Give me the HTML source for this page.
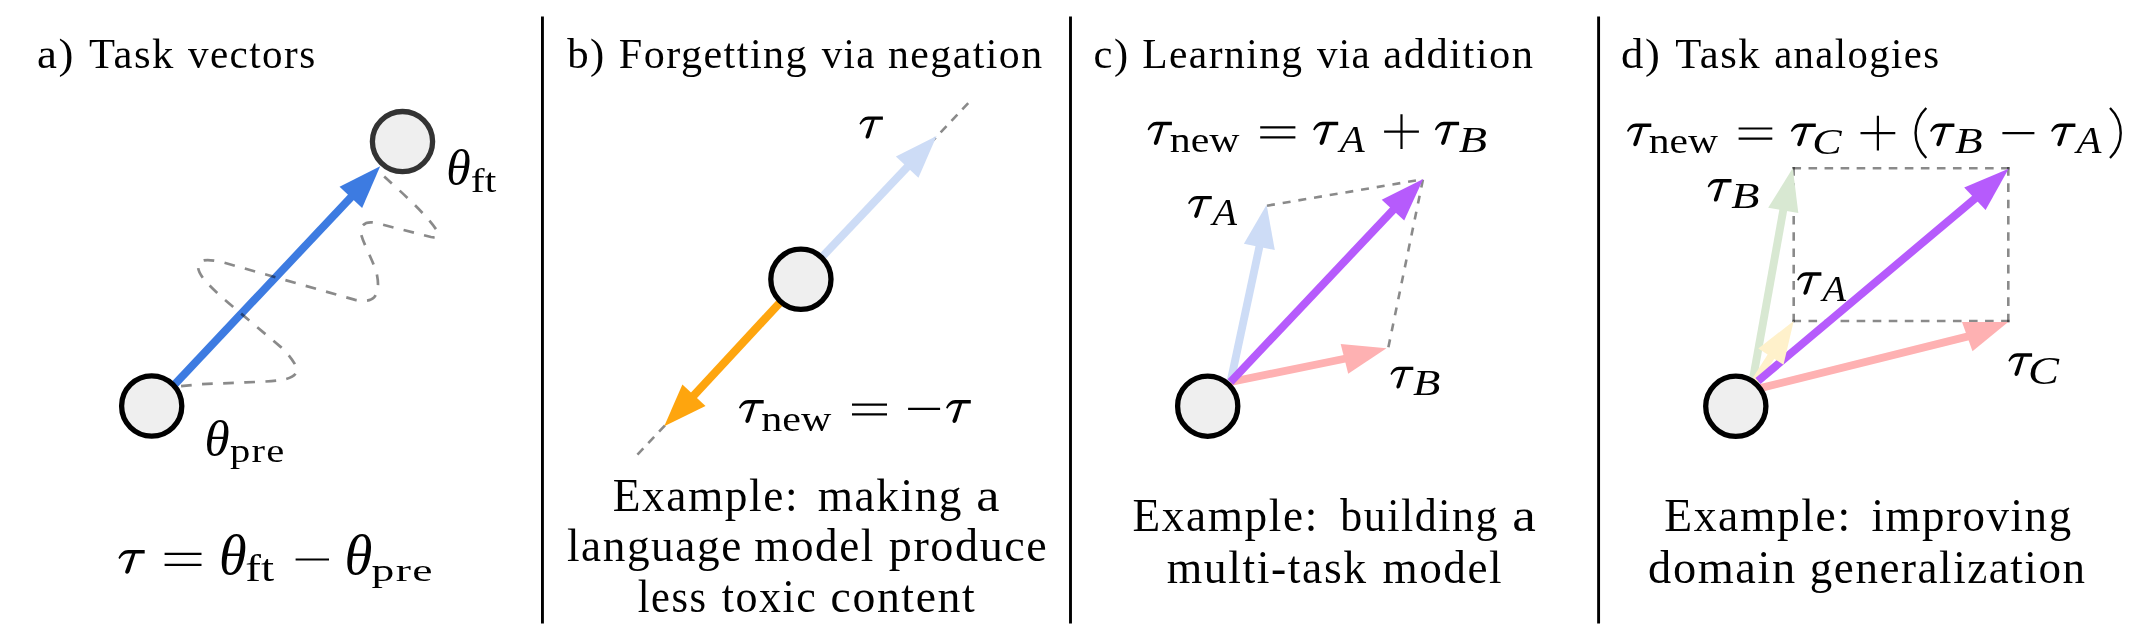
<!DOCTYPE html>
<html><head><meta charset="utf-8"><title>Task vectors</title>
<style>
html,body{margin:0;padding:0;background:#fff;}
body{width:2143px;height:635px;overflow:hidden;font-family:"Liberation Serif",serif;}
svg{display:block;font-family:"Liberation Serif",serif;fill:#000;}
</style></head><body>
<svg width="2143" height="635" viewBox="0 0 2143 635">
<rect width="2143" height="635" fill="#fff"/>

<line x1="542.45" y1="16.5" x2="542.45" y2="623.4" stroke="#000" stroke-width="2.9"/>
<line x1="1070.5" y1="16.5" x2="1070.5" y2="623.4" stroke="#000" stroke-width="2.9"/>
<line x1="1598.6" y1="16.5" x2="1598.6" y2="623.4" stroke="#000" stroke-width="2.9"/>
<!-- panel a -->
<line x1="154.60" y1="405.70" x2="353.59" y2="194.54" stroke="#3d7be1" stroke-width="7.9"/>
<polygon points="380.20,166.30 362.13,208.08 339.57,186.82" fill="#3d7be1"/>
<path d="M384.2,176.4 C400,191 424,212 436.2,229.5 C439.5,234.5 438,238.5 431,237 L376,223 C366,220.5 358.5,225 361.5,235.6 C364,245 374,262 377,275 C379,285 378,293 374.1,297.4 C371,301 364,301.5 355.2,299.9 L224.2,262.7 C212,259.5 203,259 200.2,262.2 C196.5,266 198,271 202.8,277.8 C210,287 222,297.5 233,306.8 L280.9,347.1 C288,353.5 292.5,360 295.3,364.8 C298.5,371 297,376 286,379.1 C278,381 262,381.8 245.6,382.4 L200.2,384.2 L180.1,386.2" fill="none" stroke="#000" stroke-opacity="0.46" stroke-width="2.7" stroke-dasharray="10.7 10.4"/>
<circle cx="151.7" cy="406.0" r="30.1" fill="#efefef" stroke="#000" stroke-width="5.3"/>
<circle cx="402.5" cy="141.6" r="30.1" fill="#efefef" stroke="#333" stroke-width="5.3"/>
<!-- panel b -->
<path d="M968.2,103.2 L635.3,456.9" fill="none" stroke="#000" stroke-opacity="0.46" stroke-width="2.6" stroke-dasharray="8.6 7.2"/>
<line x1="800.90" y1="279.30" x2="909.92" y2="164.17" stroke="#cddcf6" stroke-width="7.9"/>
<polygon points="936.60,136.00 918.43,177.73 895.92,156.42" fill="#cddcf6"/>
<line x1="801.60" y1="279.30" x2="691.23" y2="398.18" stroke="#fea50e" stroke-width="8.2"/>
<polygon points="664.20,426.20 682.40,384.60 705.50,405.90" fill="#fea50e"/>
<circle cx="800.9" cy="279.3" r="30.1" fill="#efefef" stroke="#000" stroke-width="5.3"/>
<!-- panel c -->
<path d="M1267,205.7 L1423,179.3" fill="none" stroke="#000" stroke-opacity="0.46" stroke-width="2.6" stroke-dasharray="8 7.9"/>
<path d="M1388.4,347.2 L1423,179.3" fill="none" stroke="#000" stroke-opacity="0.46" stroke-width="2.6" stroke-dasharray="8 8.3"/>
<line x1="1230.50" y1="382.00" x2="1260.19" y2="242.99" stroke="#cddcf6" stroke-width="7.9"/>
<polygon points="1266.60,204.80 1243.90,243.80 1274.80,250.00" fill="#cddcf6"/>
<line x1="1230.50" y1="382.00" x2="1348.37" y2="358.00" stroke="#feb1b2" stroke-width="7.9"/>
<polygon points="1386.50,348.20 1340.70,343.90 1348.20,373.70" fill="#feb1b2"/>
<line x1="1230.50" y1="382.00" x2="1395.70" y2="207.24" stroke="#b65bfc" stroke-width="7.9"/>
<polygon points="1423.20,179.00 1381.70,199.70 1404.20,220.60" fill="#b65bfc"/>
<circle cx="1207.7" cy="406.2" r="30.1" fill="#efefef" stroke="#000" stroke-width="5.3"/>
<!-- panel d -->
<path d="M1792.45,168.3 H2009.55" fill="none" stroke="#000" stroke-opacity="0.46" stroke-width="2.6" stroke-dasharray="8.6 7.45"/>
<path d="M1792.45,321.0 H2009.55" fill="none" stroke="#000" stroke-opacity="0.46" stroke-width="2.6" stroke-dasharray="8.6 7.45"/>
<path d="M1793.7,167.05 V322.25" fill="none" stroke="#000" stroke-opacity="0.46" stroke-width="2.6" stroke-dasharray="8.6 7.69"/>
<path d="M2008.3,167.05 V322.25" fill="none" stroke="#000" stroke-opacity="0.46" stroke-width="2.6" stroke-dasharray="8.6 7.69"/>
<line x1="1752.60" y1="381.00" x2="1783.96" y2="206.36" stroke="#d8e8d2" stroke-width="7.9"/>
<polygon points="1792.80,168.00 1768.20,207.70 1798.30,212.90" fill="#d8e8d2"/>
<line x1="1754.00" y1="389.70" x2="1971.13" y2="335.63" stroke="#feb1b2" stroke-width="7.9"/>
<polygon points="2008.20,322.00 1962.00,322.00 1972.50,351.20" fill="#feb1b2"/>
<line x1="1755.40" y1="381.00" x2="1773.05" y2="353.28" stroke="#fff1cb" stroke-width="7.9"/>
<line x1="1758.00" y1="381.00" x2="1977.96" y2="196.13" stroke="#b65bfc" stroke-width="7.9"/>
<polygon points="2008.60,168.80 1964.20,187.40 1985.60,210.00" fill="#b65bfc"/>
<polygon points="1793.70,320.90 1758.30,348.50 1783.50,364.80" fill="#fff1cb"/>
<circle cx="1735.8" cy="406.3" r="30.1" fill="#efefef" stroke="#000" stroke-width="5.3"/>
<!-- text -->
<g style="opacity:0.999">
<text x="37.09" y="68.20" font-size="41.80" textLength="37.96" lengthAdjust="spacingAndGlyphs" letter-spacing="1.463">a)</text>
<text x="89.04" y="68.20" font-size="41.80" textLength="85.73" lengthAdjust="spacingAndGlyphs" letter-spacing="1.463">Task</text>
<text x="188.00" y="68.20" font-size="41.80" textLength="128.60" lengthAdjust="spacingAndGlyphs" letter-spacing="1.463">vectors</text>
<text x="567.20" y="68.20" font-size="41.80" textLength="38.63" lengthAdjust="spacingAndGlyphs" letter-spacing="1.463">b)</text>
<text x="618.84" y="68.20" font-size="41.80" textLength="189.25" lengthAdjust="spacingAndGlyphs" letter-spacing="1.463">Forgetting</text>
<text x="821.70" y="68.20" font-size="41.80" textLength="54.11" lengthAdjust="spacingAndGlyphs" letter-spacing="1.463">via</text>
<text x="888.00" y="68.20" font-size="41.80" textLength="155.54" lengthAdjust="spacingAndGlyphs" letter-spacing="1.463">negation</text>
<text x="1093.58" y="68.20" font-size="41.80" textLength="35.99" lengthAdjust="spacingAndGlyphs" letter-spacing="1.463">c)</text>
<text x="1142.26" y="68.20" font-size="41.80" textLength="161.25" lengthAdjust="spacingAndGlyphs" letter-spacing="1.463">Learning</text>
<text x="1316.90" y="68.20" font-size="41.80" textLength="54.31" lengthAdjust="spacingAndGlyphs" letter-spacing="1.463">via</text>
<text x="1383.38" y="68.20" font-size="41.80" textLength="151.15" lengthAdjust="spacingAndGlyphs" letter-spacing="1.463">addition</text>
<text x="1621.10" y="68.20" font-size="41.80" textLength="40.27" lengthAdjust="spacingAndGlyphs" letter-spacing="1.463">d)</text>
<text x="1675.34" y="68.20" font-size="41.80" textLength="85.83" lengthAdjust="spacingAndGlyphs" letter-spacing="1.463">Task</text>
<text x="1774.14" y="68.20" font-size="41.80" textLength="166.39" lengthAdjust="spacingAndGlyphs" letter-spacing="1.463">analogies</text>
<text x="612.65" y="511.00" font-size="45.50" textLength="186.59" lengthAdjust="spacingAndGlyphs" letter-spacing="1.593">Example:</text>
<text x="817.70" y="511.00" font-size="45.50" textLength="145.43" lengthAdjust="spacingAndGlyphs" letter-spacing="1.593">making</text>
<text x="976.17" y="511.00" font-size="45.50" textLength="25.07" lengthAdjust="spacingAndGlyphs" letter-spacing="1.593">a</text>
<text x="566.91" y="561.10" font-size="45.50" textLength="175.91" lengthAdjust="spacingAndGlyphs" letter-spacing="1.593">language</text>
<text x="754.31" y="561.10" font-size="45.50" textLength="120.52" lengthAdjust="spacingAndGlyphs" letter-spacing="1.593">model</text>
<text x="888.74" y="561.10" font-size="45.50" textLength="159.70" lengthAdjust="spacingAndGlyphs" letter-spacing="1.593">produce</text>
<text x="637.77" y="612.10" font-size="45.50" textLength="69.69" lengthAdjust="spacingAndGlyphs" letter-spacing="1.593">less</text>
<text x="721.72" y="612.10" font-size="45.50" textLength="95.64" lengthAdjust="spacingAndGlyphs" letter-spacing="1.593">toxic</text>
<text x="830.64" y="612.10" font-size="45.50" textLength="145.59" lengthAdjust="spacingAndGlyphs" letter-spacing="1.593">content</text>
<text x="1132.56" y="531.30" font-size="45.50" textLength="186.28" lengthAdjust="spacingAndGlyphs" letter-spacing="1.593">Example:</text>
<text x="1340.30" y="531.30" font-size="45.50" textLength="158.64" lengthAdjust="spacingAndGlyphs" letter-spacing="1.593">building</text>
<text x="1512.35" y="531.30" font-size="45.50" textLength="25.43" lengthAdjust="spacingAndGlyphs" letter-spacing="1.593">a</text>
<text x="1166.70" y="582.70" font-size="45.50" textLength="201.01" lengthAdjust="spacingAndGlyphs" letter-spacing="1.593">multi-task</text>
<text x="1382.51" y="582.70" font-size="45.50" textLength="120.73" lengthAdjust="spacingAndGlyphs" letter-spacing="1.593">model</text>
<text x="1664.25" y="531.30" font-size="45.50" textLength="187.42" lengthAdjust="spacingAndGlyphs" letter-spacing="1.593">Example:</text>
<text x="1871.41" y="531.30" font-size="45.50" textLength="201.28" lengthAdjust="spacingAndGlyphs" letter-spacing="1.593">improving</text>
<text x="1648.12" y="582.70" font-size="45.50" textLength="148.72" lengthAdjust="spacingAndGlyphs" letter-spacing="1.593">domain</text>
<text x="1809.82" y="582.70" font-size="45.50" textLength="276.70" lengthAdjust="spacingAndGlyphs" letter-spacing="1.593">generalization</text>
<text x="446.31" y="185.40" font-size="49.86" textLength="24.45" lengthAdjust="spacingAndGlyphs" font-style="italic">θ</text>
<text x="470.84" y="192.00" font-size="34.22" textLength="25.45" lengthAdjust="spacingAndGlyphs">ft</text>
<text x="204.44" y="456.20" font-size="50.57" textLength="25.15" lengthAdjust="spacingAndGlyphs" font-style="italic">θ</text>
<text x="229.94" y="462.40" font-size="33.46" textLength="55.44" lengthAdjust="spacingAndGlyphs" letter-spacing="1.004">pre</text>
<g transform="translate(118.30,550.00) scale(1.0600,1.0304)"><path d="M24.9,0.1 L24.9,3.5 L9.6,3.5 C6.2,3.5 3.7,5.1 1.3,8.7 L0.1,7.7 C2.1,3.3 5.0,0.1 9.3,0.1 Z"/><path d="M13.1,3.0 L16.3,3.0 L10.9,20.5 C10.4,22.1 9.4,23 8.3,23 C7.0,23 6.2,21.9 6.6,20.3 Z"/></g>
<path d="M164.60,553.90H201.50M164.60,564.80H201.50" stroke="#000" stroke-width="2.2" fill="none"/>
<text x="218.94" y="574.20" font-size="56.29" textLength="27.63" lengthAdjust="spacingAndGlyphs" font-style="italic">θ</text>
<text x="245.29" y="581.30" font-size="37.58" textLength="28.81" lengthAdjust="spacingAndGlyphs">ft</text>
<path d="M295.60,559.50H329.00" stroke="#000" stroke-width="2.2" fill="none"/>
<text x="344.61" y="574.20" font-size="56.29" textLength="27.87" lengthAdjust="spacingAndGlyphs" font-style="italic">θ</text>
<text x="371.62" y="581.30" font-size="31.41" textLength="62.38" lengthAdjust="spacingAndGlyphs" letter-spacing="0.942">pre</text>
<g transform="translate(859.40,116.40) scale(0.9440,0.9652)"><path d="M24.9,0.1 L24.9,3.5 L9.6,3.5 C6.2,3.5 3.7,5.1 1.3,8.7 L0.1,7.7 C2.1,3.3 5.0,0.1 9.3,0.1 Z"/><path d="M13.1,3.0 L16.3,3.0 L10.9,20.5 C10.4,22.1 9.4,23 8.3,23 C7.0,23 6.2,21.9 6.6,20.3 Z"/></g>
<g transform="translate(738.90,400.00) scale(0.9960,0.9957)"><path d="M24.9,0.1 L24.9,3.5 L9.6,3.5 C6.2,3.5 3.7,5.1 1.3,8.7 L0.1,7.7 C2.1,3.3 5.0,0.1 9.3,0.1 Z"/><path d="M13.1,3.0 L16.3,3.0 L10.9,20.5 C10.4,22.1 9.4,23 8.3,23 C7.0,23 6.2,21.9 6.6,20.3 Z"/></g>
<text x="761.22" y="430.80" font-size="36.00" textLength="70.05" lengthAdjust="spacingAndGlyphs">new</text>
<path d="M852.00,404.60H887.00M852.00,414.40H887.00" stroke="#000" stroke-width="2.2" fill="none"/>
<path d="M908.10,408.90H940.10" stroke="#000" stroke-width="2.2" fill="none"/>
<g transform="translate(946.00,400.00) scale(0.9960,0.9957)"><path d="M24.9,0.1 L24.9,3.5 L9.6,3.5 C6.2,3.5 3.7,5.1 1.3,8.7 L0.1,7.7 C2.1,3.3 5.0,0.1 9.3,0.1 Z"/><path d="M13.1,3.0 L16.3,3.0 L10.9,20.5 C10.4,22.1 9.4,23 8.3,23 C7.0,23 6.2,21.9 6.6,20.3 Z"/></g>
<g transform="translate(1147.50,121.70) scale(0.9800,1.0087)"><path d="M24.9,0.1 L24.9,3.5 L9.6,3.5 C6.2,3.5 3.7,5.1 1.3,8.7 L0.1,7.7 C2.1,3.3 5.0,0.1 9.3,0.1 Z"/><path d="M13.1,3.0 L16.3,3.0 L10.9,20.5 C10.4,22.1 9.4,23 8.3,23 C7.0,23 6.2,21.9 6.6,20.3 Z"/></g>
<text x="1169.83" y="152.00" font-size="36.42" textLength="69.74" lengthAdjust="spacingAndGlyphs">new</text>
<path d="M1260.20,127.30H1295.40M1260.20,137.30H1295.40" stroke="#000" stroke-width="2.2" fill="none"/>
<g transform="translate(1313.10,121.70) scale(1.0080,1.0087)"><path d="M24.9,0.1 L24.9,3.5 L9.6,3.5 C6.2,3.5 3.7,5.1 1.3,8.7 L0.1,7.7 C2.1,3.3 5.0,0.1 9.3,0.1 Z"/><path d="M13.1,3.0 L16.3,3.0 L10.9,20.5 C10.4,22.1 9.4,23 8.3,23 C7.0,23 6.2,21.9 6.6,20.3 Z"/></g>
<text x="1339.77" y="152.00" font-size="37.44" textLength="24.93" lengthAdjust="spacingAndGlyphs" font-style="italic">A</text>
<path d="M1384.10,131.70H1418.90M1401.50,114.30V149.10" stroke="#000" stroke-width="2.2" fill="none"/>
<g transform="translate(1434.80,121.70) scale(0.9760,1.0087)"><path d="M24.9,0.1 L24.9,3.5 L9.6,3.5 C6.2,3.5 3.7,5.1 1.3,8.7 L0.1,7.7 C2.1,3.3 5.0,0.1 9.3,0.1 Z"/><path d="M13.1,3.0 L16.3,3.0 L10.9,20.5 C10.4,22.1 9.4,23 8.3,23 C7.0,23 6.2,21.9 6.6,20.3 Z"/></g>
<text x="1458.88" y="152.00" font-size="36.77" textLength="28.29" lengthAdjust="spacingAndGlyphs" font-style="italic">B</text>
<g transform="translate(1188.00,195.80) scale(0.9560,0.9609)"><path d="M24.9,0.1 L24.9,3.5 L9.6,3.5 C6.2,3.5 3.7,5.1 1.3,8.7 L0.1,7.7 C2.1,3.3 5.0,0.1 9.3,0.1 Z"/><path d="M13.1,3.0 L16.3,3.0 L10.9,20.5 C10.4,22.1 9.4,23 8.3,23 C7.0,23 6.2,21.9 6.6,20.3 Z"/></g>
<text x="1212.42" y="225.10" font-size="38.05" textLength="24.48" lengthAdjust="spacingAndGlyphs" font-style="italic">A</text>
<g transform="translate(1390.40,366.60) scale(0.9200,0.9522)"><path d="M24.9,0.1 L24.9,3.5 L9.6,3.5 C6.2,3.5 3.7,5.1 1.3,8.7 L0.1,7.7 C2.1,3.3 5.0,0.1 9.3,0.1 Z"/><path d="M13.1,3.0 L16.3,3.0 L10.9,20.5 C10.4,22.1 9.4,23 8.3,23 C7.0,23 6.2,21.9 6.6,20.3 Z"/></g>
<text x="1413.09" y="394.50" font-size="34.77" textLength="27.34" lengthAdjust="spacingAndGlyphs" font-style="italic">B</text>
<g transform="translate(1626.90,123.50) scale(0.9800,0.9870)"><path d="M24.9,0.1 L24.9,3.5 L9.6,3.5 C6.2,3.5 3.7,5.1 1.3,8.7 L0.1,7.7 C2.1,3.3 5.0,0.1 9.3,0.1 Z"/><path d="M13.1,3.0 L16.3,3.0 L10.9,20.5 C10.4,22.1 9.4,23 8.3,23 C7.0,23 6.2,21.9 6.6,20.3 Z"/></g>
<text x="1648.73" y="153.20" font-size="36.42" textLength="69.24" lengthAdjust="spacingAndGlyphs">new</text>
<path d="M1738.60,128.50H1772.30M1738.60,138.60H1772.30" stroke="#000" stroke-width="2.2" fill="none"/>
<g transform="translate(1790.70,123.50) scale(1.0080,0.9870)"><path d="M24.9,0.1 L24.9,3.5 L9.6,3.5 C6.2,3.5 3.7,5.1 1.3,8.7 L0.1,7.7 C2.1,3.3 5.0,0.1 9.3,0.1 Z"/><path d="M13.1,3.0 L16.3,3.0 L10.9,20.5 C10.4,22.1 9.4,23 8.3,23 C7.0,23 6.2,21.9 6.6,20.3 Z"/></g>
<text x="1812.26" y="153.80" font-size="36.68" textLength="29.36" lengthAdjust="spacingAndGlyphs" font-style="italic">C</text>
<path d="M1860.50,133.20H1895.30M1877.90,115.80V150.60" stroke="#000" stroke-width="2.2" fill="none"/>
<path d="M1926.3,108 C1912,122 1912,144 1926.3,158" fill="none" stroke="#000" stroke-width="2.4"/>
<g transform="translate(1930.00,123.50) scale(0.9800,0.9870)"><path d="M24.9,0.1 L24.9,3.5 L9.6,3.5 C6.2,3.5 3.7,5.1 1.3,8.7 L0.1,7.7 C2.1,3.3 5.0,0.1 9.3,0.1 Z"/><path d="M13.1,3.0 L16.3,3.0 L10.9,20.5 C10.4,22.1 9.4,23 8.3,23 C7.0,23 6.2,21.9 6.6,20.3 Z"/></g>
<text x="1954.99" y="153.20" font-size="36.61" textLength="27.66" lengthAdjust="spacingAndGlyphs" font-style="italic">B</text>
<path d="M2002.40,133.20H2034.40" stroke="#000" stroke-width="2.2" fill="none"/>
<g transform="translate(2051.00,123.50) scale(0.9800,0.9870)"><path d="M24.9,0.1 L24.9,3.5 L9.6,3.5 C6.2,3.5 3.7,5.1 1.3,8.7 L0.1,7.7 C2.1,3.3 5.0,0.1 9.3,0.1 Z"/><path d="M13.1,3.0 L16.3,3.0 L10.9,20.5 C10.4,22.1 9.4,23 8.3,23 C7.0,23 6.2,21.9 6.6,20.3 Z"/></g>
<text x="2076.47" y="153.20" font-size="37.44" textLength="24.93" lengthAdjust="spacingAndGlyphs" font-style="italic">A</text>
<path d="M2110,108 C2124.3,122 2124.3,144 2110,158" fill="none" stroke="#000" stroke-width="2.4"/>
<g transform="translate(1707.60,179.00) scale(0.9600,0.9826)"><path d="M24.9,0.1 L24.9,3.5 L9.6,3.5 C6.2,3.5 3.7,5.1 1.3,8.7 L0.1,7.7 C2.1,3.3 5.0,0.1 9.3,0.1 Z"/><path d="M13.1,3.0 L16.3,3.0 L10.9,20.5 C10.4,22.1 9.4,23 8.3,23 C7.0,23 6.2,21.9 6.6,20.3 Z"/></g>
<text x="1731.28" y="208.40" font-size="36.15" textLength="28.18" lengthAdjust="spacingAndGlyphs" font-style="italic">B</text>
<g transform="translate(1797.00,272.20) scale(0.9800,0.9826)"><path d="M24.9,0.1 L24.9,3.5 L9.6,3.5 C6.2,3.5 3.7,5.1 1.3,8.7 L0.1,7.7 C2.1,3.3 5.0,0.1 9.3,0.1 Z"/><path d="M13.1,3.0 L16.3,3.0 L10.9,20.5 C10.4,22.1 9.4,23 8.3,23 C7.0,23 6.2,21.9 6.6,20.3 Z"/></g>
<text x="1822.64" y="301.10" font-size="36.23" textLength="23.56" lengthAdjust="spacingAndGlyphs" font-style="italic">A</text>
<g transform="translate(2008.30,353.20) scale(0.9560,0.9870)"><path d="M24.9,0.1 L24.9,3.5 L9.6,3.5 C6.2,3.5 3.7,5.1 1.3,8.7 L0.1,7.7 C2.1,3.3 5.0,0.1 9.3,0.1 Z"/><path d="M13.1,3.0 L16.3,3.0 L10.9,20.5 C10.4,22.1 9.4,23 8.3,23 C7.0,23 6.2,21.9 6.6,20.3 Z"/></g>
<text x="2027.92" y="383.70" font-size="40.47" textLength="30.98" lengthAdjust="spacingAndGlyphs" font-style="italic">C</text>
</g>
</svg></body></html>
